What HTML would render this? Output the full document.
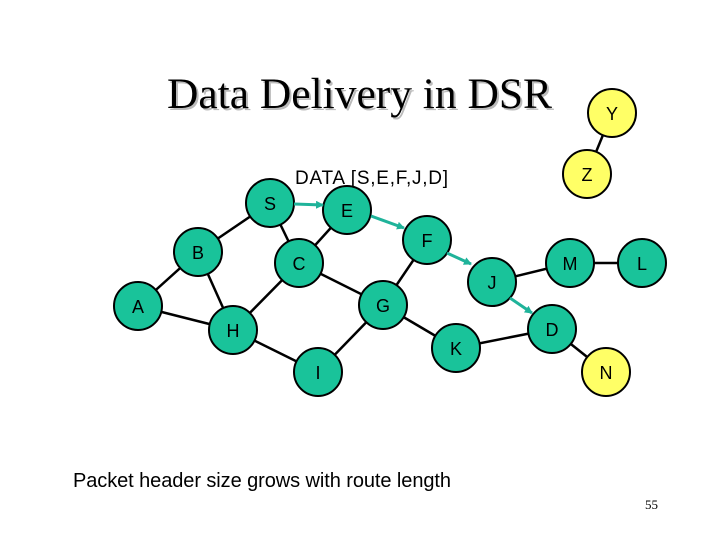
<!DOCTYPE html>
<html><head><style>body{margin:0;background:#fff}svg{display:block}</style></head><body>
<svg width="720" height="540" xmlns="http://www.w3.org/2000/svg" font-family="Liberation Sans, sans-serif">
<defs><marker id="ar" markerWidth="8" markerHeight="8" refX="7" refY="4" orient="auto" markerUnits="userSpaceOnUse"><path d="M0,0 L8,4 L0,8z" fill="#1fb39a"/></marker></defs>
<text x="169" y="110" font-family="Liberation Serif, serif" font-size="43" fill="#bbb" textLength="385" lengthAdjust="spacingAndGlyphs">Data Delivery in DSR</text>
<text x="167" y="108" font-family="Liberation Serif, serif" font-size="43" fill="#000" textLength="385" lengthAdjust="spacingAndGlyphs">Data Delivery in DSR</text>
<text x="295" y="184" font-size="19" textLength="153">DATA [S,E,F,J,D]</text>
<g stroke="#000" stroke-width="2.5">
<line x1="270" y1="203" x2="198" y2="252"/><line x1="270" y1="203" x2="299" y2="263"/>
<line x1="347" y1="210" x2="299" y2="263"/><line x1="198" y1="252" x2="138" y2="306"/>
<line x1="198" y1="252" x2="233" y2="330"/><line x1="138" y1="306" x2="233" y2="330"/>
<line x1="299" y1="263" x2="233" y2="330"/><line x1="299" y1="263" x2="383" y2="305"/>
<line x1="383" y1="305" x2="318" y2="372"/><line x1="233" y1="330" x2="318" y2="372"/>
<line x1="383" y1="305" x2="427" y2="240"/><line x1="383" y1="305" x2="456" y2="348"/>
<line x1="492" y1="282" x2="570" y2="263"/><line x1="570" y1="263" x2="642" y2="263"/>
<line x1="456" y1="348" x2="552" y2="329"/><line x1="552" y1="329" x2="606" y2="372"/>
<line x1="612" y1="113" x2="587" y2="174"/>
</g>
<g fill="#19c39a" stroke="#000" stroke-width="2">
<circle cx="270" cy="203" r="24"/><circle cx="347" cy="210" r="24"/><circle cx="198" cy="252" r="24"/>
<circle cx="299" cy="263" r="24"/><circle cx="138" cy="306" r="24"/><circle cx="383" cy="305" r="24"/>
<circle cx="233" cy="330" r="24"/><circle cx="318" cy="372" r="24"/><circle cx="427" cy="240" r="24"/>
<circle cx="492" cy="282" r="24"/><circle cx="570" cy="263" r="24"/><circle cx="642" cy="263" r="24"/>
<circle cx="552" cy="329" r="24"/><circle cx="456" cy="348" r="24"/>
</g>
<g fill="#ffff66" stroke="#000" stroke-width="2">
<circle cx="612" cy="113" r="24"/><circle cx="587" cy="174" r="24"/><circle cx="606" cy="372" r="24"/>
</g>
<g stroke="#1fb39a" stroke-width="3" marker-end="url(#ar)">
<line x1="294" y1="204" x2="323" y2="205"/>
<line x1="371" y1="216" x2="404" y2="228"/>
<line x1="447" y1="253" x2="471" y2="264"/>
<line x1="510" y1="298" x2="532" y2="313"/>
</g>
<g font-size="18" text-anchor="middle">
<text x="270" y="210">S</text><text x="347" y="217">E</text><text x="198" y="259">B</text>
<text x="299" y="270">C</text><text x="138" y="313">A</text><text x="383" y="312">G</text>
<text x="233" y="337">H</text><text x="318" y="379">I</text><text x="427" y="247">F</text>
<text x="492" y="289">J</text><text x="570" y="270">M</text><text x="642" y="270">L</text>
<text x="552" y="336">D</text><text x="456" y="355">K</text><text x="612" y="120">Y</text>
<text x="587" y="181">Z</text><text x="606" y="379">N</text>
</g>
<text x="73" y="487" font-size="20" textLength="378">Packet header size grows with route length</text>
<text x="645" y="509" font-family="Liberation Serif, serif" font-size="13">55</text>
</svg>
</body></html>
